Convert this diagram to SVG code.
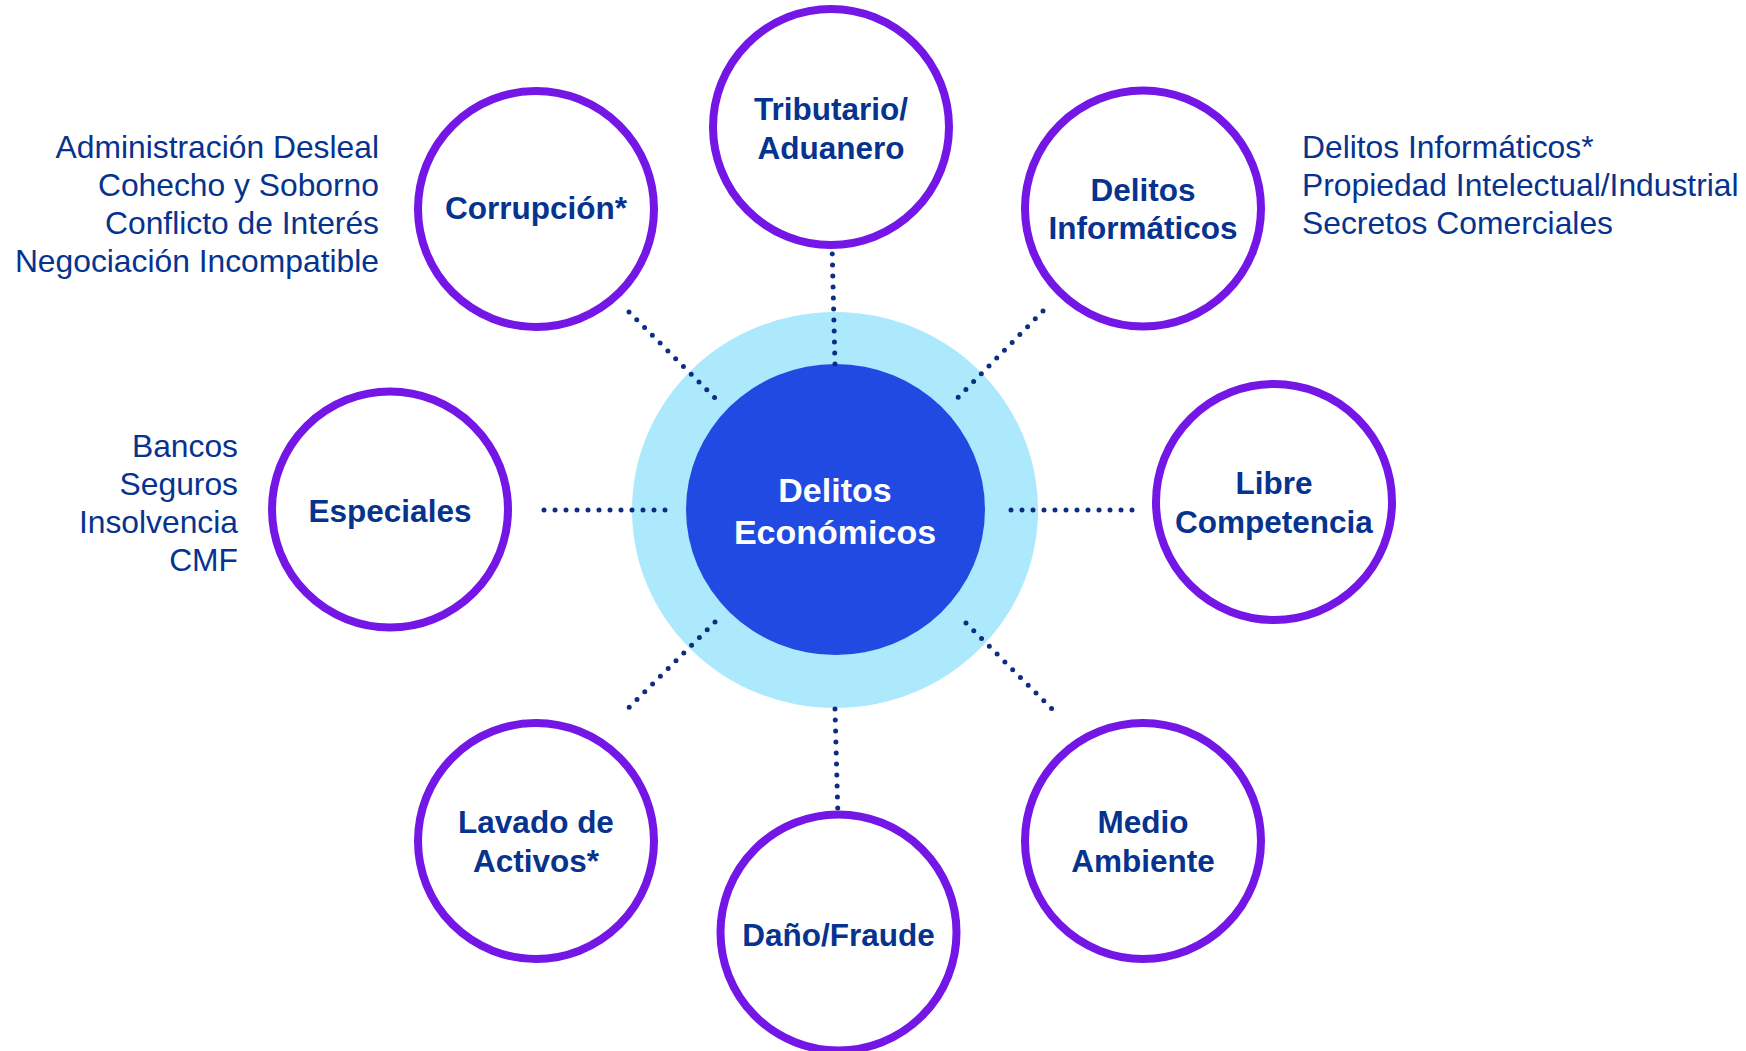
<svg xmlns="http://www.w3.org/2000/svg" width="1746" height="1051" viewBox="0 0 1746 1051">
<style>
.node{fill:#FFFFFF;stroke:#7316E6;stroke-width:8}
.lbl{font-family:"Liberation Sans",Arial,sans-serif;font-weight:bold;font-size:31.5px;fill:#06338E;text-anchor:middle}
.side{font-family:"Liberation Sans",Arial,sans-serif;font-size:31.8px;fill:#06338E}
.dot{stroke:#0D2E80;stroke-width:5;stroke-linecap:round;stroke-dasharray:0 11;fill:none}
.ctr{font-family:"Liberation Sans",Arial,sans-serif;font-weight:bold;font-size:34px;fill:#FFFFFF;text-anchor:middle}
</style>
<rect width="1746" height="1051" fill="#FFFFFF"/>
<g id="center">
<ellipse cx="835" cy="510" rx="203" ry="198" fill="#ADE9FD"/>
<ellipse cx="835.5" cy="509.5" rx="149.5" ry="145.5" fill="#204AE1"/>
<text class="ctr" x="835" y="502">Delitos</text>
<text class="ctr" x="835" y="544">Económicos</text>
</g>
<g id="connectors">
<line class="dot" x1="629" y1="312" x2="716.5" y2="399.5"/>
<line class="dot" x1="832" y1="243" x2="835" y2="364.5"/>
<line class="dot" x1="1043" y1="311" x2="957" y2="398.5"/>
<line class="dot" x1="1011" y1="510" x2="1133.5" y2="510"/>
<line class="dot" x1="544" y1="510" x2="665.5" y2="510"/>
<line class="dot" x1="966" y1="623" x2="1052.5" y2="709.5"/>
<line class="dot" x1="835" y1="709" x2="838" y2="818.5"/>
<line class="dot" x1="715" y1="622" x2="628.5" y2="708"/>
</g>
<g id="tributario">
<circle class="node" cx="831" cy="127" r="118"/>
<text class="lbl" x="831" y="120">Tributario/</text>
<text class="lbl" x="831" y="159">Aduanero</text>
</g>
<g id="corrupcion">
<circle class="node" cx="536" cy="209" r="118"/>
<text class="lbl" x="536" y="219">Corrupción*</text>
</g>
<g id="corrupcion-list">
<text class="side" text-anchor="end" x="379" y="158">Administración Desleal</text>
<text class="side" text-anchor="end" x="379" y="196">Cohecho y Soborno</text>
<text class="side" text-anchor="end" x="379" y="234">Conflicto de Interés</text>
<text class="side" text-anchor="end" x="379" y="272">Negociación Incompatible</text>
</g>
<g id="informaticos">
<circle class="node" cx="1143" cy="208.5" r="118"/>
<text class="lbl" x="1143" y="201">Delitos</text>
<text class="lbl" x="1143" y="239">Informáticos</text>
</g>
<g id="informaticos-list">
<text class="side" x="1302" y="158">Delitos Informáticos*</text>
<text class="side" x="1302" y="196">Propiedad Intelectual/Industrial</text>
<text class="side" x="1302" y="234">Secretos Comerciales</text>
</g>
<g id="especiales">
<circle class="node" cx="390" cy="509.5" r="118"/>
<text class="lbl" x="390" y="522">Especiales</text>
</g>
<g id="especiales-list">
<text class="side" text-anchor="end" x="238" y="457">Bancos</text>
<text class="side" text-anchor="end" x="238" y="495">Seguros</text>
<text class="side" text-anchor="end" x="238" y="533">Insolvencia</text>
<text class="side" text-anchor="end" x="238" y="571">CMF</text>
</g>
<g id="libre-competencia">
<circle class="node" cx="1274" cy="502" r="118"/>
<text class="lbl" x="1274" y="494">Libre</text>
<text class="lbl" x="1274" y="533">Competencia</text>
</g>
<g id="lavado">
<circle class="node" cx="536" cy="841" r="118"/>
<text class="lbl" x="536" y="833">Lavado de</text>
<text class="lbl" x="536" y="872">Activos*</text>
</g>
<g id="dano-fraude">
<circle class="node" cx="838.5" cy="932.5" r="118"/>
<text class="lbl" x="838.5" y="946">Daño/Fraude</text>
</g>
<g id="medio-ambiente">
<circle class="node" cx="1143" cy="841" r="118"/>
<text class="lbl" x="1143" y="833">Medio</text>
<text class="lbl" x="1143" y="872">Ambiente</text>
</g>
</svg>
